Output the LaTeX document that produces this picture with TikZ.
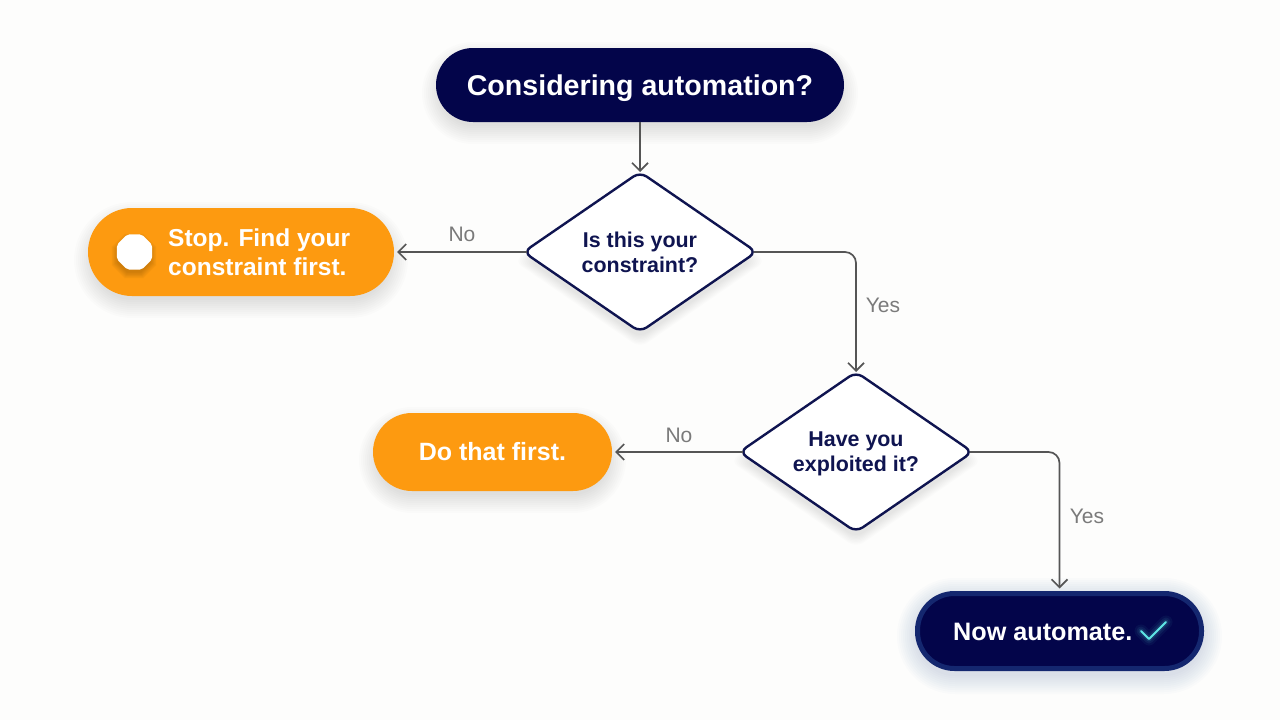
\documentclass[tikz,border=0pt]{standalone}
\usepackage{fontspec}
\setmainfont{Liberation Sans}
\usetikzlibrary{shapes.geometric,arrows.meta}
\definecolor{bgc}{HTML}{FDFDFC}
\definecolor{navy}{HTML}{03054A}
\definecolor{ink}{HTML}{0F1450}
\definecolor{rim}{HTML}{14276F}
\definecolor{orangeb}{HTML}{FD9A10}
\definecolor{wire}{HTML}{555555}
\definecolor{lab}{HTML}{7A7A7A}
\definecolor{tick}{HTML}{5FE6E6}
\definecolor{haze}{HTML}{2A3FA8}
\newcommand{\softpill}[7]{% x1 y1 x2 y2 dy colour opacity
  \foreach \k in {0,2,...,18}{
    \pgfmathsetmacro{\rr}{(#4-#2)/2+\k}
    \fill[#6,opacity=#7,rounded corners=\rr pt] (#1-\k,#2-\k+#5) rectangle (#3+\k,#4+\k+#5);
  }}
\newcommand{\softdiamond}[4]{% cx cy halfw halfh
  \foreach \k in {0,2,...,14}{
    \fill[black,opacity=.012,rounded corners=9pt] (#1-#3-\k,#2+9) -- (#1,#2-#4-\k*.7+9) -- (#1+#3+\k,#2+9) -- (#1,#2+#4+\k*.7+9) -- cycle;
  }}
\tikzset{
  x=1pt,y=-1pt,
  pill/.style={rectangle,outer sep=0pt,inner sep=0pt,align=center,font=\bfseries},
  navypill/.style={pill,fill=navy,text=white,rounded corners=37pt},
  orangepill/.style={pill,fill=orangeb,text=white},
  decision/.style={diamond,aspect=1.45,draw=ink,line width=2.4pt,fill=white,rounded corners=8pt,
    inner sep=0pt,outer sep=0pt,minimum width=233pt,minimum height=160pt},
  decisiontext/.style={text=ink,align=center,inner sep=0pt,font=\bfseries\fontsize{21.4}{25}\selectfont},
  wirearrow/.style={draw=wire,line width=1.7pt,-{Straight Barb[length=8pt,width=16pt,line width=1.7pt]}},
  wireline/.style={rounded corners=11pt},
  branchlabel/.style={text=lab,font=\fontsize{21}{25}\selectfont,inner sep=0pt}
}
\begin{document}
\begin{tikzpicture}
\useasboundingbox (0,0) rectangle (1280,720);
\fill[bgc] (0,0) rectangle (1280,720);
% shadows
\softpill{440}{52}{840}{118}{8}{black}{.010}
\softpill{92}{212}{390}{292}{8}{black}{.011}
\softpill{377}{417}{608}{487}{8}{black}{.011}
\softdiamond{640}{252}{112}{77}
\softdiamond{856}{452}{112}{77}
\softpill{915}{591}{1204}{671}{5}{haze}{.016}
% nodes
\node[navypill,minimum width=408pt,minimum height=74pt] (start) at (640,85) {};
\node[inner sep=0pt,text=white,font=\bfseries\fontsize{28.6}{32}\selectfont] (starttext) at (640,88) {Considering automation?};
\node[decision] (d1) at (640,252) {};
\node[decisiontext] (d1text) at (640,252.5) {Is this your\\constraint?};
\node[decision] (d2) at (856,452) {};
\node[decisiontext] (d2text) at (856,454) {Have you\\exploited it?};
\node[orangepill,rounded corners=44pt,minimum width=306pt,minimum height=88pt] (stop) at (241,252) {};
\node[font=\bfseries\fontsize{24.5}{29}\selectfont,text=white,align=left,inner sep=0pt,anchor=west] (stoptext) at (168,252.5) {Stop. Find your\\constraint first.};
\node[orangepill,rounded corners=39pt,minimum width=239pt,minimum height=78pt,font=\bfseries\fontsize{25}{29}\selectfont] (first) at (492.5,452) {Do that first.};
\node[pill,fill=navy,draw=rim,line width=5pt,text=white,rounded corners=37pt,minimum width=284pt,minimum height=75pt] (now) at (1059.5,631) {};
\node[font=\bfseries\fontsize{25.2}{29}\selectfont,text=white,inner sep=0pt,anchor=west] (nowtext) at (953,631.5) {Now automate.};
% octagon with its shadow
\foreach \k in {0,1,...,5}{
  \node[regular polygon,regular polygon sides=8,fill=black!55!orangeb,opacity=.06,minimum size={36pt+\k*2.4pt},inner sep=0pt] (octs\k) at (134,256) {};
}
\node[regular polygon,regular polygon sides=8,fill=white,minimum size=38pt,inner sep=0pt,outer sep=0pt,rounded corners=2pt] (oct) at (134.5,252) {};
% tick with glow
\foreach \w/\o in {13/.05,9/.07,5/.12}{
  \draw[tick,line width=\w pt,opacity=\o,line cap=round,line join=round] (1141,631) -- (1149,639) -- (1166,622);
}
\draw[tick,line width=2pt,line cap=round,line join=round] (1141,631) -- (1149,639) -- (1166,622);
% connectors
\draw[wirearrow] (start.south) -- (d1.north);
\draw[wirearrow,shorten <=-3pt,shorten >=3pt] (d1.west) -- (stop.east);
\draw[wirearrow,wireline,shorten <=-3pt] (d1.east) -| (d2.north);
\draw[wirearrow,shorten <=-3pt,shorten >=3pt] (d2.west) -- (first.east);
\draw[wirearrow,wireline,shorten <=-3pt,shorten >=5pt] (d2.east) -| (now.north);
% labels
\node[branchlabel] (no1) at (462,234) {No};
\node[branchlabel] (yes1) at (883,305) {Yes};
\node[branchlabel] (no2) at (679,435) {No};
\node[branchlabel] (yes2) at (1087,516) {Yes};
\end{tikzpicture}
\end{document}
